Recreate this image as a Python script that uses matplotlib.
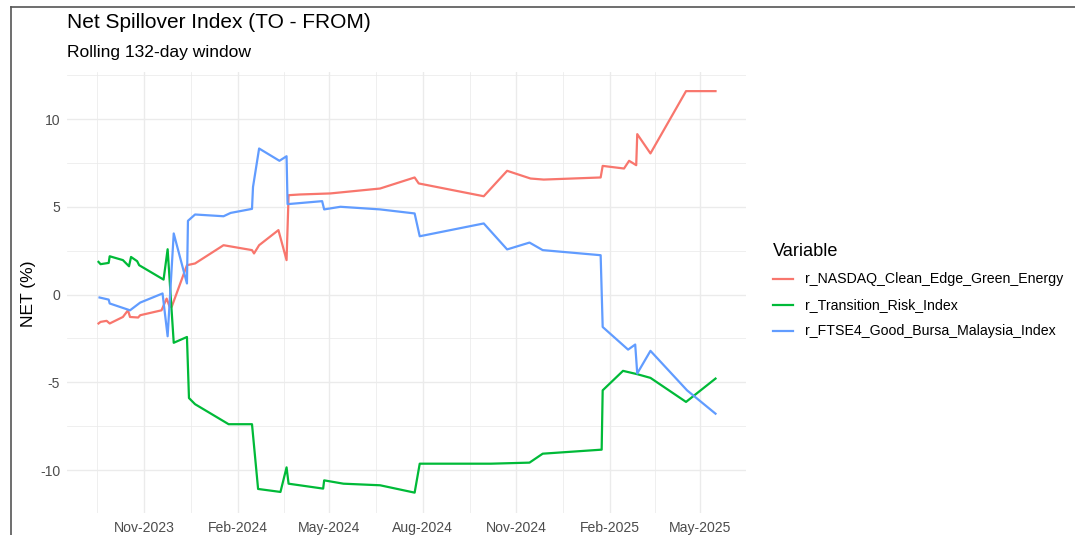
import matplotlib
matplotlib.use("Agg")
import matplotlib.pyplot as plt
import matplotlib.dates as mdates
from matplotlib.lines import Line2D
import numpy as np
import pandas as pd

plt.rcParams['font.family'] = ['Liberation Sans', 'DejaVu Sans']

# ---- data ----
series_names = ["r_NASDAQ_Clean_Edge_Green_Energy",
                "r_Transition_Risk_Index",
                "r_FTSE4_Good_Bursa_Malaysia_Index"]
series_colors = ["#F8766D", "#00BA38", "#619CFF"]

nasdaq_dates = ["2023-09-17", "2023-09-19", "2023-09-25", "2023-09-28", "2023-10-11",
                "2023-10-16", "2023-10-18", "2023-10-26", "2023-10-28", "2023-11-18",
                "2023-11-23", "2023-11-26", "2023-11-28", "2023-12-13", "2023-12-21",
                "2024-01-18", "2024-02-15", "2024-02-17", "2024-02-22", "2024-03-12",
                "2024-03-20", "2024-03-22", "2024-04-02", "2024-05-02", "2024-06-20",
                "2024-07-24", "2024-07-28", "2024-09-30", "2024-10-23", "2024-11-15",
                "2024-11-28", "2025-01-23", "2025-01-25", "2025-02-15", "2025-02-20",
                "2025-02-27", "2025-02-28", "2025-03-13", "2025-04-17", "2025-05-16"]
nasdaq_vals = [-1.65, -1.56, -1.50, -1.65, -1.28,
               -0.90, -1.28, -1.31, -1.18, -0.90,
               -0.23, -0.70, -0.70, 1.67, 1.77,
               2.81, 2.53, 2.34, 2.81, 3.67,
               1.96, 5.66, 5.70, 5.76, 6.04,
               6.67, 6.33, 5.60, 7.05, 6.61,
               6.55, 6.67, 7.33, 7.18, 7.62,
               7.37, 9.14, 8.04, 11.59, 11.59]

trans_dates = ["2023-09-17", "2023-09-19", "2023-09-27", "2023-09-28", "2023-10-11",
               "2023-10-17", "2023-10-19", "2023-10-25", "2023-10-27", "2023-11-20",
               "2023-11-24", "2023-11-30", "2023-12-13", "2023-12-15", "2023-12-21",
               "2024-01-23", "2024-02-15", "2024-02-21", "2024-03-14", "2024-03-20",
               "2024-03-22", "2024-04-25", "2024-04-26", "2024-05-15", "2024-06-20",
               "2024-07-24", "2024-07-29", "2024-10-07", "2024-11-14", "2024-11-27",
               "2025-01-24", "2025-01-25", "2025-02-14", "2025-02-28", "2025-03-13",
               "2025-04-17", "2025-05-16"]
trans_vals = [1.86, 1.73, 1.80, 2.18, 1.96,
              1.61, 2.14, 1.90, 1.67, 0.85,
              2.58, -2.75, -2.42, -5.90, -6.25,
              -7.39, -7.39, -11.08, -11.25, -9.85,
              -10.78, -11.06, -10.59, -10.78, -10.87,
              -11.29, -9.64, -9.64, -9.58, -9.07,
              -8.84, -5.46, -4.35, -4.54, -4.75,
              -6.12, -4.79]

ftse_dates = ["2023-09-18", "2023-09-27", "2023-09-28", "2023-10-18", "2023-10-28",
              "2023-11-19", "2023-11-24", "2023-11-30", "2023-12-13", "2023-12-14",
              "2023-12-21", "2024-01-18", "2024-01-25", "2024-02-15", "2024-02-16",
              "2024-02-22", "2024-03-13", "2024-03-20", "2024-03-21", "2024-04-24",
              "2024-04-26", "2024-05-12", "2024-06-20", "2024-07-24", "2024-07-29",
              "2024-09-30", "2024-10-23", "2024-11-14", "2024-11-27", "2025-01-23",
              "2025-01-25", "2025-02-19", "2025-02-26", "2025-02-28", "2025-03-13",
              "2025-04-18", "2025-05-16"]
ftse_vals = [-0.17, -0.29, -0.51, -0.90, -0.46,
             0.06, -2.38, 3.48, 0.63, 4.20,
             4.56, 4.46, 4.65, 4.88, 6.13,
             8.32, 7.62, 7.88, 5.15, 5.32,
             4.85, 5.00, 4.85, 4.62, 3.32,
             4.05, 2.57, 2.96, 2.53, 2.24,
             -1.85, -3.14, -2.85, -4.50, -3.21,
             -5.46, -6.79]

x_tick_dates = ["2023-11-01", "2024-02-01", "2024-05-01", "2024-08-01",
                "2024-11-01", "2025-02-01", "2025-05-01"]
x_tick_labels = ["Nov-2023", "Feb-2024", "May-2024", "Aug-2024",
                 "Nov-2024", "Feb-2025", "May-2025"]
y_ticks = [-10, -5, 0, 5, 10]

title = "Net Spillover Index (TO - FROM)"
subtitle = "Rolling 132-day window"
y_label = "NET (%)"
legend_title = "Variable"

# ---- figure ----
W, H = 1075, 535
fig = plt.figure(figsize=(W / 100, H / 100), dpi=100)

def fx(px):
    return px / W

def fy(py):
    return 1 - py / H

ax_left, ax_right, ax_top, ax_bottom = 67, 746, 72, 513
ax = fig.add_axes([fx(ax_left), fy(ax_bottom), (ax_right - ax_left) / W, (ax_bottom - ax_top) / H])

grid_col = "#EBEBEB"
for s in ax.spines.values():
    s.set_visible(False)

all_dates = [pd.to_datetime(d) for d in x_tick_dates]
major = [mdates.date2num(d) for d in all_dates]
ext = [mdates.date2num(pd.Timestamp("2023-08-01"))] + major + [mdates.date2num(pd.Timestamp("2025-08-01"))]
minor_x = [(a + b) / 2 for a, b in zip(ext[:-1], ext[1:])]

xlim = (mdates.date2num(pd.Timestamp("2023-08-17")), mdates.date2num(pd.Timestamp("2025-06-15")))
ylim = (-12.45, 12.68)

for v in minor_x:
    if xlim[0] < v < xlim[1]:
        ax.axvline(v, color=grid_col, lw=0.55, zorder=0)
for v in major:
    ax.axvline(v, color=grid_col, lw=1.0, zorder=0)
for v in [-12.5, -7.5, -2.5, 2.5, 7.5, 12.5]:
    if ylim[0] < v < ylim[1]:
        ax.axhline(v, color=grid_col, lw=0.55, zorder=0)
for v in y_ticks:
    ax.axhline(v, color=grid_col, lw=1.0, zorder=0)

data = [(nasdaq_dates, nasdaq_vals), (trans_dates, trans_vals), (ftse_dates, ftse_vals)]
handles = []
for (d, v), name, col in zip(data, series_names, series_colors):
    line, = ax.plot(pd.to_datetime(d), v, color=col, lw=1.6, label=name,
                    solid_joinstyle='round', zorder=3)
    handles.append(line)

ax.set_xlim(xlim)
ax.set_ylim(ylim)
ax.set_xticks(major)
ax.set_xticklabels(x_tick_labels)
ax.set_yticks(y_ticks)
ax.set_yticklabels([str(t) for t in y_ticks])
ax.tick_params(axis='both', length=0, labelsize=10.1, colors="#4D4D4D")
ax.tick_params(axis='x', pad=5.5)
ax.tick_params(axis='y', pad=5)
ax.set_facecolor("white")

fig.text(fx(28), fy(294), y_label, rotation=90, ha='center', va='center',
         fontsize=12.6, color="black")

fig.text(fx(67), fy(23), title, ha='left', va='center', fontsize=15, color="black")
fig.text(fx(67), fy(52), subtitle, ha='left', va='center', fontsize=12.6, color="black")

leg = ax.legend(handles=handles, labels=series_names, title=legend_title,
                loc='upper left', bbox_to_anchor=(fx(773), fy(243)),
                bbox_transform=fig.transFigure, frameon=False,
                fontsize=10.15, title_fontsize=13.1, handlelength=1.45,
                handletextpad=0.8, labelspacing=0.85, borderpad=0, borderaxespad=0)
leg._legend_box.align = "left"
leg._legend_box.sep = 9

fig.add_artist(Line2D([fx(11), fx(11)], [fy(7), 0], color="#555555", lw=1.2,
                      transform=fig.transFigure))
fig.add_artist(Line2D([fx(11), 1], [fy(7), fy(7)], color="#555555", lw=1.2,
                      transform=fig.transFigure))

fig.savefig("out.png", dpi=100)
